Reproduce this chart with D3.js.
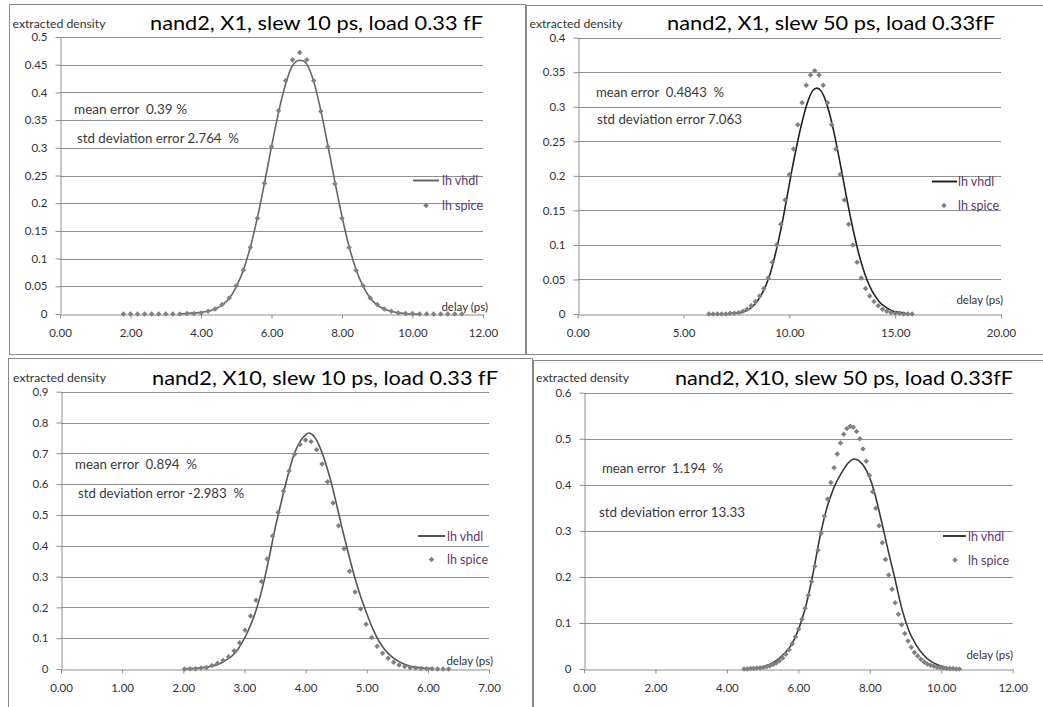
<!DOCTYPE html>
<html>
<head>
<meta charset="utf-8">
<script src="https://cdn.jsdelivr.net/npm/d3@7"></script>
<style>
  html, body { margin: 0; padding: 0; background: #fff; }
  svg { display: block; }
  text { font-family: Lato, "Open Sans", "Liberation Sans", sans-serif; white-space: pre; }
</style>
</head>
<body>
<svg id="chart" width="1043" height="707"></svg>
<script>
// ---------------- DATA ----------------
const titles = [
  "nand2, X1, slew 10 ps, load 0.33 fF",
  "nand2, X1, slew 50 ps, load 0.33fF",
  "nand2, X10, slew 10 ps, load 0.33 fF",
  "nand2, X10, slew 50 ps, load 0.33fF"
];
const meanErrorTexts = ["mean error  0.39 %", "mean error  0.4843  %", "mean error  0.894  %", "mean error  1.194  %"];
const stdErrorTexts = ["std deviation error 2.764  %", "std deviation error 7.063", "std deviation error -2.983  %", "std deviation error 13.33"];
const yAxisLabel = "extracted density";
const xAxisLabel = "delay (ps)";
const seriesNames = ["lh vhdl", "lh spice"];

const yTicks1 = [0, 0.05, 0.1, 0.15, 0.2, 0.25, 0.3, 0.35, 0.4, 0.45, 0.5];
const xTicks1 = [0, 2, 4, 6, 8, 10, 12];
const yTicks2 = [0, 0.05, 0.1, 0.15, 0.2, 0.25, 0.3, 0.35, 0.4];
const xTicks2 = [0, 5, 10, 15, 20];
const yTicks3 = [0, 0.1, 0.2, 0.3, 0.4, 0.5, 0.6, 0.7, 0.8, 0.9];
const xTicks3 = [0, 1, 2, 3, 4, 5, 6, 7];
const yTicks4 = [0, 0.1, 0.2, 0.3, 0.4, 0.5, 0.6];
const xTicks4 = [0, 2, 4, 6, 8, 10, 12];

// Panel 1: X1, slew 10 ps
const p1SpiceX = [1.8,2.0,2.2,2.4,2.6,2.8,3.0,3.2,3.4,3.6,3.8,4.0,4.2,4.4,4.6,4.8,5.0,5.2,5.4,5.6,5.8,6.0,6.2,6.4,6.6,6.8,7.0,7.2,7.4,7.6,7.8,8.0,8.2,8.4,8.6,8.8,9.0,9.2,9.4,9.6,9.8,10.0,10.2,10.4,10.6,10.8,11.0,11.2,11.4];
const p1SpiceY = [0,0,0,0,0,0,0,0,0.000,0.001,0.001,0.002,0.005,0.009,0.017,0.029,0.051,0.079,0.120,0.173,0.236,0.302,0.367,0.421,0.459,0.472,0.459,0.421,0.366,0.302,0.235,0.173,0.120,0.079,0.051,0.029,0.017,0.009,0.005,0.002,0.001,0.001,0,0,0,0,0,0,0];
const p1VhdlX = [3.4,3.6,3.8,4.0,4.2,4.4,4.6,4.8,5.0,5.2,5.4,5.6,5.8,6.0,6.2,6.4,6.6,6.8,6.9,7.0,7.2,7.4,7.6,7.8,8.0,8.2,8.4,8.6,8.8,9.0,9.2,9.4,9.6,9.8,10.0,10.2];
const p1VhdlY = [0.000,0.001,0.002,0.003,0.005,0.009,0.016,0.028,0.049,0.079,0.121,0.174,0.236,0.302,0.364,0.415,0.449,0.458,0.457,0.451,0.419,0.367,0.304,0.238,0.176,0.122,0.080,0.050,0.029,0.016,0.009,0.005,0.002,0.001,0.000,0.000];

// Panel 2: X1, slew 50 ps
const p2SpiceX = [6.2,6.4,6.6,6.8,7.0,7.2,7.4,7.6,7.8,8.0,8.2,8.4,8.6,8.8,9.0,9.2,9.4,9.6,9.8,10.0,10.2,10.4,10.6,10.8,11.0,11.2,11.4,11.6,11.8,12.0,12.2,12.4,12.6,12.8,13.0,13.2,13.4,13.6,13.8,14.0,14.2,14.4,14.6,14.8,15.0,15.2,15.4,15.6,15.8];
const p2SpiceY = [0,0,0,0,0,0.001,0.001,0.002,0.004,0.007,0.012,0.018,0.026,0.037,0.052,0.075,0.100,0.130,0.165,0.202,0.239,0.274,0.306,0.331,0.346,0.352,0.346,0.331,0.306,0.274,0.239,0.202,0.165,0.130,0.100,0.075,0.052,0.037,0.026,0.018,0.012,0.007,0.004,0.002,0.001,0.001,0,0,0];
const p2VhdlX = [7.1,7.3,7.5,7.7,7.9,8.1,8.3,8.5,8.7,8.9,9.1,9.3,9.5,9.7,9.9,10.1,10.3,10.5,10.7,10.9,11.1,11.3,11.5,11.7,11.9,12.1,12.3,12.5,12.7,12.9,13.1,13.3,13.5,13.7,13.9,14.1,14.3,14.5,14.7,14.9,15.1,15.3,15.5];
const p2VhdlY = [0.000,0.001,0.001,0.002,0.004,0.007,0.012,0.019,0.029,0.042,0.059,0.082,0.108,0.138,0.171,0.205,0.236,0.265,0.290,0.310,0.323,0.327,0.323,0.310,0.290,0.264,0.234,0.202,0.169,0.138,0.110,0.085,0.064,0.047,0.034,0.024,0.016,0.011,0.007,0.004,0.003,0.002,0.001];

// Panel 3: X10, slew 10 ps
const p3SpiceX = [2.02,2.11,2.20,2.29,2.38,2.47,2.56,2.65,2.74,2.83,2.92,3.01,3.10,3.19,3.28,3.37,3.46,3.55,3.64,3.73,3.82,3.91,4.00,4.09,4.18,4.27,4.36,4.45,4.54,4.63,4.72,4.81,4.90,4.99,5.08,5.17,5.26,5.35,5.44,5.53,5.62,5.71,5.80,5.89,5.98,6.07,6.16,6.25,6.34];
const p3SpiceY = [0.000,0.001,0.001,0.003,0.005,0.011,0.019,0.028,0.040,0.059,0.085,0.126,0.172,0.223,0.284,0.357,0.432,0.508,0.578,0.643,0.697,0.729,0.743,0.738,0.712,0.665,0.608,0.539,0.465,0.390,0.317,0.250,0.195,0.145,0.102,0.074,0.051,0.035,0.022,0.013,0.008,0.004,0.003,0.002,0.001,0.001,0.000,0.000,0.000];
const p3VhdlX = [2.0,2.1,2.2,2.3,2.4,2.5,2.6,2.7,2.8,2.9,3.0,3.1,3.2,3.3,3.4,3.5,3.6,3.7,3.8,3.9,4.0,4.05,4.1,4.2,4.3,4.4,4.5,4.6,4.7,4.8,4.9,5.0,5.1,5.2,5.3,5.4,5.5,5.6,5.7,5.8,5.9,6.0,6.1];
const p3VhdlY = [0.000,0.001,0.002,0.004,0.007,0.011,0.018,0.029,0.043,0.066,0.099,0.142,0.196,0.268,0.358,0.455,0.540,0.620,0.690,0.735,0.760,0.766,0.762,0.735,0.685,0.620,0.540,0.455,0.375,0.300,0.235,0.180,0.130,0.090,0.062,0.042,0.027,0.017,0.010,0.006,0.003,0.002,0.001];

// Panel 4: X10, slew 50 ps
const p4SpiceX = [4.48,4.57,4.66,4.75,4.84,4.93,5.02,5.11,5.20,5.29,5.38,5.47,5.56,5.65,5.74,5.83,5.92,6.01,6.10,6.19,6.28,6.37,6.46,6.55,6.64,6.73,6.82,6.91,7.00,7.09,7.18,7.27,7.36,7.45,7.54,7.63,7.72,7.81,7.90,7.99,8.08,8.17,8.26,8.35,8.44,8.53,8.62,8.71,8.80,8.89,8.98,9.07,9.16,9.25,9.34,9.43,9.52,9.61,9.70,9.79,9.88,9.97,10.06,10.15,10.24,10.33,10.42,10.51];
const p4SpiceY = [0.000,0.000,0.001,0.001,0.002,0.002,0.003,0.005,0.007,0.010,0.013,0.018,0.024,0.032,0.042,0.055,0.070,0.087,0.108,0.132,0.160,0.190,0.223,0.258,0.295,0.332,0.369,0.405,0.437,0.467,0.491,0.510,0.522,0.527,0.525,0.516,0.500,0.478,0.451,0.420,0.385,0.349,0.311,0.274,0.238,0.204,0.173,0.144,0.119,0.096,0.077,0.061,0.047,0.036,0.028,0.021,0.015,0.011,0.008,0.006,0.004,0.003,0.002,0.001,0.001,0.001,0.000,0.000];
const p4VhdlX = [4.5,4.6,4.8,5.0,5.2,5.4,5.6,5.8,6.0,6.2,6.4,6.6,6.8,7.0,7.2,7.4,7.57,7.7,7.9,8.1,8.3,8.5,8.7,8.9,9.1,9.3,9.5,9.7,9.9,10.1,10.3,10.5];
const p4VhdlY = [0.000,0.001,0.002,0.005,0.010,0.019,0.033,0.052,0.085,0.134,0.203,0.285,0.350,0.395,0.425,0.448,0.456,0.452,0.432,0.392,0.330,0.262,0.197,0.130,0.082,0.052,0.031,0.017,0.009,0.004,0.001,0.000];

// ---------------- LAYOUT (not data) ----------------
const panels = [
  { frame: [9.5, 4.5, 525.5, 354.5], plot: { l: 60, r: 483, t: 37, b: 314 }, xMax: 12, yMax: 0.5,
    xTicks: xTicks1, yTicks: yTicks1, spiceX: p1SpiceX, spiceY: p1SpiceY, vhdlX: p1VhdlX, vhdlY: p1VhdlY,
    lineColor: "#666",
    title: { x: 150, y: 29.5, w: 333 }, yLab: { x: 12.5, y: 27.5 },
    mean: { x: 74, y: 114, w: 113 }, std: { x: 77, y: 143, w: 162 },
    leg: { x1: 413, x2: 439, y1: 180.5, dx: 426, dy: 205.5, tx: 442 },
    del: { x: 488, y: 311 } },
  { frame: [526.5, 5.5, 1050, 354.5], plot: { l: 577.7, r: 1001, t: 37.7, b: 314 }, xMax: 20, yMax: 0.4,
    xTicks: xTicks2, yTicks: yTicks2, spiceX: p2SpiceX, spiceY: p2SpiceY, vhdlX: p2VhdlX, vhdlY: p2VhdlY,
    lineColor: "#222",
    title: { x: 667, y: 30, w: 328 }, yLab: { x: 529.5, y: 27.5 },
    mean: { x: 596, y: 97, w: 128 }, std: { x: 597, y: 124, w: 145 },
    leg: { x1: 932, x2: 957, y1: 181.5, dx: 944, dy: 205.5, tx: 958 },
    del: { x: 1003, y: 304 } },
  { frame: [8.5, 358.5, 532.5, 720], plot: { l: 61, r: 489, t: 391.7, b: 669 }, xMax: 7, yMax: 0.9,
    xTicks: xTicks3, yTicks: yTicks3, spiceX: p3SpiceX, spiceY: p3SpiceY, vhdlX: p3VhdlX, vhdlY: p3VhdlY,
    lineColor: "#555",
    title: { x: 152, y: 384.5, w: 346 }, yLab: { x: 13, y: 382 },
    mean: { x: 75, y: 469, w: 122 }, std: { x: 78, y: 498, w: 166 },
    leg: { x1: 418, x2: 445, y1: 536, dx: 431.5, dy: 559.5, tx: 447 },
    del: { x: 493, y: 665 } },
  { frame: [533.5, 360.5, 1050, 720], plot: { l: 584, r: 1012.7, t: 392.7, b: 669 }, xMax: 12, yMax: 0.6,
    xTicks: xTicks4, yTicks: yTicks4, spiceX: p4SpiceX, spiceY: p4SpiceY, vhdlX: p4VhdlX, vhdlY: p4VhdlY,
    lineColor: "#3a3a3a",
    title: { x: 675, y: 385, w: 338 }, yLab: { x: 536, y: 382 },
    mean: { x: 602, y: 472.5, w: 121 }, std: { x: 599, y: 516.5, w: 146 },
    leg: { x1: 943, x2: 966, y1: 536, dx: 955, dy: 560, tx: 968 },
    del: { x: 1013, y: 659 } }
];

const svg = d3.select("#chart");
svg.append("rect").attr("width", 1043).attr("height", 707).attr("fill", "#fff");

const gridColor = "#8f8f8f";
const textColor = "#333";
const legendColor = "#5c3a6e";
const dotColor = "#808080";
const fmtY = v => String(+v.toFixed(2));
const fmtX = d3.format(".2f");

panels.forEach((p, i) => {
  const g = svg.append("g");
  const [fx1, fy1, fx2, fy2] = p.frame;
  g.append("rect").attr("x", fx1).attr("y", fy1).attr("width", fx2 - fx1).attr("height", fy2 - fy1)
    .attr("fill", "none").attr("stroke", "#8a8a8a").attr("stroke-width", 1);

  const x = d3.scaleLinear().domain([0, p.xMax]).range([p.plot.l, p.plot.r]);
  const y = d3.scaleLinear().domain([0, p.yMax]).range([p.plot.b, p.plot.t]);

  // gridlines
  g.append("g").selectAll("line").data(p.yTicks.filter(v => v > 0)).join("line")
    .attr("x1", p.plot.l).attr("x2", p.plot.r)
    .attr("y1", d => Math.round(y(d)) + 0.5).attr("y2", d => Math.round(y(d)) + 0.5)
    .attr("stroke", gridColor).attr("stroke-width", 1);

  // y axis
  const yAxis = d3.axisLeft(y).tickValues(p.yTicks).tickFormat(fmtY).tickSize(5).tickSizeOuter(0).tickPadding(8);
  const ya = g.append("g").attr("transform", `translate(${Math.round(p.plot.l) + 0.5},0)`).call(yAxis);
  ya.selectAll("path,line").attr("stroke", gridColor);
  ya.selectAll("text").attr("fill", textColor).style("font-size", "11.5px").style("font-family", "Lato, sans-serif");

  // x axis
  const xAxis = d3.axisBottom(x).tickValues(p.xTicks).tickFormat(fmtX).tickSize(4).tickSizeOuter(0).tickPadding(10);
  const xa = g.append("g").attr("transform", `translate(0,${Math.round(p.plot.b) + 0.5})`).call(xAxis);
  xa.selectAll("path,line").attr("stroke", gridColor);
  xa.selectAll("text").attr("fill", textColor).style("font-size", "11.5px").style("font-family", "Lato, sans-serif");

  // vhdl line
  const line = d3.line().x(d => x(d[0])).y(d => y(d[1])).curve(d3.curveMonotoneX);
  g.append("path").datum(d3.zip(p.vhdlX, p.vhdlY)).attr("d", line)
    .attr("fill", "none").attr("stroke", p.lineColor).attr("stroke-width", 1.6);

  // spice diamonds
  const diamond = d3.symbol().type(d3.symbolSquare).size(15);
  g.append("g").selectAll("path").data(d3.zip(p.spiceX, p.spiceY)).join("path")
    .attr("d", diamond)
    .attr("transform", d => `translate(${x(d[0])},${y(d[1])}) rotate(45)`)
    .attr("fill", dotColor);

  // titles and texts
  g.append("text").attr("x", p.title.x).attr("y", p.title.y).text(titles[i])
    .attr("textLength", p.title.w).attr("lengthAdjust", "spacingAndGlyphs")
    .style("font-size", "19px").attr("fill", "#000");
  g.append("text").attr("x", p.yLab.x).attr("y", p.yLab.y).text(yAxisLabel)
    .attr("textLength", 93).attr("lengthAdjust", "spacingAndGlyphs")
    .style("font-size", "11px").attr("fill", textColor);
  g.append("text").attr("x", p.mean.x).attr("y", p.mean.y).text(meanErrorTexts[i])
    .attr("textLength", p.mean.w).attr("lengthAdjust", "spacingAndGlyphs")
    .style("font-size", "12.5px").attr("fill", "#3a3a3a");
  g.append("text").attr("x", p.std.x).attr("y", p.std.y).text(stdErrorTexts[i])
    .attr("textLength", p.std.w).attr("lengthAdjust", "spacingAndGlyphs")
    .style("font-size", "12.5px").attr("fill", "#3a3a3a");
  g.append("text").attr("x", p.del.x).attr("y", p.del.y).text(xAxisLabel)
    .attr("text-anchor", "end").style("font-size", "11.5px").attr("fill", textColor);

  // legend
  g.append("line").attr("x1", p.leg.x1).attr("x2", p.leg.x2).attr("y1", p.leg.y1).attr("y2", p.leg.y1)
    .attr("stroke", p.lineColor).attr("stroke-width", 2);
  g.append("text").attr("x", p.leg.tx).attr("y", p.leg.y1 + 4.5).text(seriesNames[0])
    .style("font-size", "12.5px").attr("fill", legendColor);
  g.append("path").attr("d", diamond).attr("transform", `translate(${p.leg.dx},${p.leg.dy}) rotate(45)`)
    .attr("fill", dotColor);
  g.append("text").attr("x", p.leg.tx).attr("y", p.leg.dy + 4.5).text(seriesNames[1])
    .style("font-size", "12.5px").attr("fill", legendColor);
});
</script>
</body>
</html>
